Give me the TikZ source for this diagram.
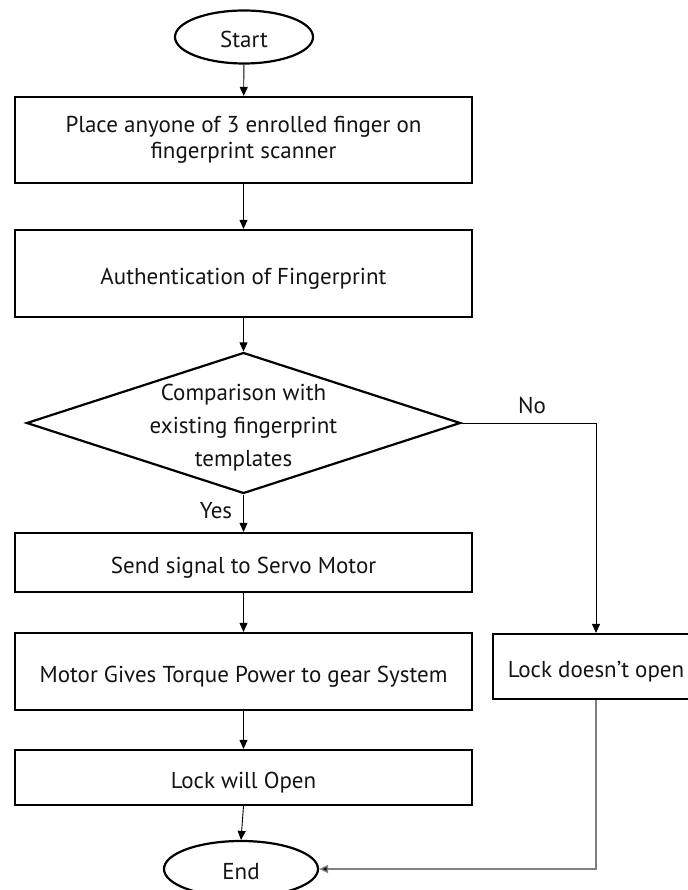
\documentclass[tikz,border=0pt]{standalone}
\usepackage{fontspec}
\setmainfont{PT Sans}
\usetikzlibrary{shapes.geometric,arrows.meta}
\begin{document}
\begin{tikzpicture}[x=1pt,y=-1pt,
  txt/.style={font=\fontsize{23}{25.5}\selectfont, text=black!92},
  oneline/.style={text height=21pt, text depth=0pt},
  box/.style={txt, draw, line width=2.2pt, rectangle, minimum width=457pt, inner sep=0pt, align=center},
  term/.style={txt, oneline, draw, line width=2.2pt, ellipse, inner sep=0pt},
  decision/.style={draw, line width=2.2pt, diamond, minimum width=434pt, minimum height=141pt, inner sep=0pt},
  conn/.style={line width=0.9pt, -{Triangle[length=9pt,width=8pt]}},
  plain/.style={line width=0.9pt},
  greyconn/.style={line width=1.4pt, draw=black!50, -{Triangle[length=9pt,width=8pt,fill=black]}}
]
\useasboundingbox (0,0) rectangle (687,890);
\fill[white] (0,0) rectangle (687,890);

\node[term, minimum width=138pt, minimum height=53pt] (start) at (244,37) {Start};
\node[box, minimum height=86pt] (b1) at (243.5,140) {Place anyone of 3 enrolled finger on\\fingerprint scanner};
\node[box, oneline, minimum height=87pt] (b2) at (243.5,273.5) {Authentication of Fingerprint};
\node[decision] (dia) at (243.5,423) {};
\node[txt, align=center, font=\fontsize{23}{33}\selectfont] (diatext) at (243.5,428) {Comparison with\\existing fingerprint\\templates};
\node[box, oneline, minimum height=59pt] (b3) at (243.5,562.5) {Send signal to Servo Motor};
\node[box, oneline, minimum height=77pt] (b4) at (243.5,671.5) {Motor Gives Torque Power to gear System};
\node[box, oneline, minimum height=55pt] (b5) at (243.5,777.5) {Lock will Open};
\node[box, oneline, minimum width=206pt, minimum height=65pt] (lk) at (596,666.5) {Lock doesn't open};
\node[term, minimum width=154pt, minimum height=56pt] (end) at (241,869) {End};

\node[txt, anchor=base] (yes) at (216,518) {Yes};
\node[txt, anchor=base] (no) at (532,413) {No};
\coordinate (nocorner) at (596,423);

\draw[conn] (start) -- (b1);
\draw[conn] (b1) -- (b2);
\draw[conn] (b2) -- (dia);
\draw[conn] (dia.south) -- (b3.north);
\draw[conn] (b3) -- (b4);
\draw[conn] (b4) -- (b5);
\draw[conn] (b5.south) -- (end.north);
\draw[plain] (dia.east) -- (nocorner);
\draw[conn] (nocorner) -- (lk.north);
\draw[greyconn] (lk.south) |- (end.east);
\end{tikzpicture}
\end{document}
